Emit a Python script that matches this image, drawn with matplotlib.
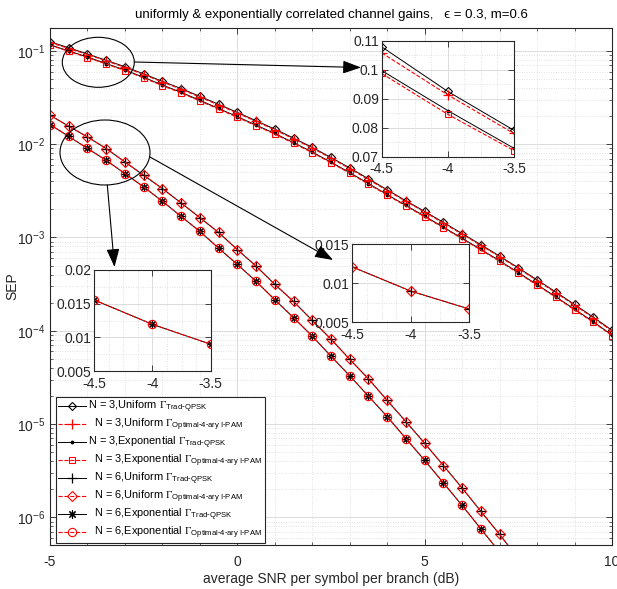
import matplotlib
matplotlib.use('Agg')
import matplotlib.pyplot as plt
from matplotlib.patches import Ellipse, FancyArrowPatch
from matplotlib.ticker import LogLocator, MultipleLocator, NullFormatter, FixedLocator, AutoMinorLocator

plt.rcParams['font.family'] = ['Liberation Sans', 'DejaVu Sans']
plt.rcParams['mathtext.fontset'] = 'custom'
plt.rcParams['mathtext.rm'] = 'Liberation Serif'
plt.rcParams['mathtext.sf'] = 'Liberation Sans'
plt.rcParams['mathtext.it'] = 'Liberation Serif:italic'
plt.rcParams['axes.unicode_minus'] = False

# ---------------- data ----------------
snr_db = [-5, -4.5, -4, -3.5, -3, -2.5, -2, -1.5, -1, -0.5, 0, 0.5, 1, 1.5, 2, 2.5,
          3, 3.5, 4, 4.5, 5, 5.5, 6, 6.5, 7, 7.5, 8, 8.5, 9, 9.5, 10]

sep_n3_uni_trad = [0.1250, 0.1079, 0.0925, 0.0791, 0.0676, 0.0566, 0.0471, 0.0394, 0.0325,
                   0.0267, 0.0219, 0.0178, 0.0145, 0.0116, 0.00923, 0.00719, 0.00556, 0.00425,
                   0.00324, 0.00247, 0.00190, 0.00145, 0.00110, 8.36e-4, 6.31e-4, 4.72e-4,
                   3.51e-4, 2.60e-4, 1.91e-4, 1.40e-4, 1.01e-4]
sep_n3_uni_opt = [0.1227, 0.1058, 0.0913, 0.0780, 0.0664, 0.0556, 0.0463, 0.0387, 0.0319,
                  0.0262, 0.0215, 0.0175, 0.0142, 0.0114, 0.00906, 0.00706, 0.00546, 0.00417,
                  0.00318, 0.00243, 0.00187, 0.00142, 0.00108, 8.21e-4, 6.20e-4, 4.64e-4,
                  3.45e-4, 2.55e-4, 1.88e-4, 1.37e-4, 9.92e-5]
sep_n3_exp_trad = [0.1160, 0.0997, 0.0859, 0.0729, 0.0623, 0.0520, 0.0430, 0.0359, 0.0295,
                   0.0241, 0.0197, 0.0160, 0.0130, 0.01037, 0.00823, 0.00640, 0.00495, 0.00378,
                   0.00288, 0.00220, 0.00169, 0.00129, 9.79e-4, 7.44e-4, 5.62e-4, 4.20e-4,
                   3.12e-4, 2.31e-4, 1.70e-4, 1.25e-4, 8.99e-5]
sep_n3_exp_opt = [0.1148, 0.0987, 0.0846, 0.0721, 0.0614, 0.0512, 0.0423, 0.0353, 0.0290,
                  0.0237, 0.0194, 0.0157, 0.0128, 0.0102, 0.00810, 0.00630, 0.00487, 0.00372,
                  0.00284, 0.00217, 0.00166, 0.00127, 9.64e-4, 7.33e-4, 5.54e-4, 4.14e-4,
                  3.07e-4, 2.28e-4, 1.67e-4, 1.23e-4, 8.86e-5]
sep_n6_uni_trad = [0.0204, 0.01556, 0.01194, 0.00897, 0.00644, 0.00464, 0.00334, 0.00234,
                   0.00163, 0.00113, 7.40e-4, 4.93e-4, 3.14e-4, 2.06e-4, 1.29e-4, 8.13e-5,
                   4.94e-5, 3.05e-5, 1.79e-5, 1.06e-5, 6.22e-6, 3.59e-6, 2.06e-6, 1.16e-6,
                   6.56e-7, 3.62e-7, 1.97e-7, 1.06e-7, 5.65e-8, 2.97e-8, 1.56e-8]
sep_n6_uni_opt = [0.0204, 0.01556, 0.01194, 0.00897, 0.00644, 0.00464, 0.00334, 0.00234,
                  0.00163, 0.00113, 7.40e-4, 4.93e-4, 3.14e-4, 2.06e-4, 1.29e-4, 8.13e-5,
                  4.94e-5, 3.05e-5, 1.79e-5, 1.06e-5, 6.22e-6, 3.59e-6, 2.06e-6, 1.16e-6,
                  6.56e-7, 3.62e-7, 1.97e-7, 1.06e-7, 5.65e-8, 2.97e-8, 1.56e-8]
sep_n6_exp_trad = [0.01622, 0.0121, 0.0090, 0.0067, 0.00484, 0.00348, 0.00244, 0.00168,
                   0.00116, 7.67e-4, 5.14e-4, 3.38e-4, 2.15e-4, 1.38e-4, 8.75e-5, 5.33e-5,
                   3.29e-5, 1.99e-5, 1.20e-5, 6.98e-6, 4.08e-6, 2.34e-6, 1.34e-6, 7.52e-7,
                   4.24e-7, 2.34e-7, 1.28e-7, 6.89e-8, 3.62e-8, 1.91e-8, 1.00e-8]
sep_n6_exp_opt = [0.01622, 0.0121, 0.0090, 0.0067, 0.00484, 0.00348, 0.00244, 0.00168,
                  0.00116, 7.67e-4, 5.14e-4, 3.38e-4, 2.15e-4, 1.38e-4, 8.75e-5, 5.33e-5,
                  3.29e-5, 1.99e-5, 1.20e-5, 6.98e-6, 4.08e-6, 2.34e-6, 1.34e-6, 7.52e-7,
                  4.24e-7, 2.34e-7, 1.28e-7, 6.89e-8, 3.62e-8, 1.91e-8, 1.00e-8]

trad = r'$\Gamma_{\mathsf{Trad}\text{-}\mathsf{QPSK}}$'
opt = r'$\Gamma_{\mathsf{Optimal}\text{-}\mathsf{4}\text{-}\mathsf{ary\ I}\text{-}\mathsf{PAM}}$'
labels = ['N = 3,Uniform ' + trad,
          '  N = 3,Uniform ' + opt,
          'N = 3,Exponential ' + trad,
          '  N = 3,Exponential ' + opt,
          '  N = 6,Uniform ' + trad,
          '  N = 6,Uniform ' + opt,
          '  N = 6,Exponential ' + trad,
          '  N = 6,Exponential ' + opt]

RED = '#ff0000'
ASTERISK = (8, 2, 0)
styles = [
    dict(color='k', ls='-', lw=0.7, marker='D', ms=4.5, mfc='none', mew=0.8),
    dict(color=RED, ls='--', lw=0.8, marker='+', ms=7, mew=0.9),
    dict(color='k', ls='-', lw=0.7, marker='.', ms=3.5),
    dict(color=RED, ls='--', lw=0.8, marker='s', ms=5, mfc='none', mew=0.8),
    dict(color='k', ls='-', lw=0.7, marker='+', ms=7, mew=0.9),
    dict(color=RED, ls='--', lw=0.8, marker='D', ms=5, mfc='none', mew=0.8),
    dict(color='k', ls='-', lw=0.7, marker=ASTERISK, ms=6, mew=0.8),
    dict(color=RED, ls='--', lw=0.8, marker='o', ms=6, mfc='none', mew=0.8),
]
series = [sep_n3_uni_trad, sep_n3_uni_opt, sep_n3_exp_trad, sep_n3_exp_opt,
          sep_n6_uni_trad, sep_n6_uni_opt, sep_n6_exp_trad, sep_n6_exp_opt]

AX_COL = '#262626'
GRID_COL = '#dcdcdc'
FS = 10


def style_axes(a, fs=FS):
    for s in a.spines.values():
        s.set_color(AX_COL)
        s.set_linewidth(0.8)
    a.tick_params(which='both', direction='in', top=True, right=True, colors=AX_COL,
                  labelsize=fs, labelcolor='#262626')
    a.tick_params(which='major', length=4, width=0.6)
    a.tick_params(which='minor', length=2, width=0.5)
    a.grid(True, which='major', color=GRID_COL, lw=0.7, ls='-')
    a.grid(True, which='minor', color='#c8c8c8', lw=0.5, ls=(0, (1, 2.5)))
    a.set_axisbelow(True)


fig = plt.figure(figsize=(6.17, 5.89), dpi=100)
ax = fig.add_axes([0.0810, 0.0747, 0.9109, 0.8783])
handles = []
for y, st, lab in zip(series, styles, labels):
    h, = ax.semilogy(snr_db, y, label=lab, **st)
    handles.append(h)
ax.set_xlim(-5, 10)
ax.set_ylim(5.05e-7, 0.177)
ax.xaxis.set_major_locator(FixedLocator([-5, 0, 5, 10]))
ax.xaxis.set_minor_locator(MultipleLocator(1))
ax.yaxis.set_major_locator(LogLocator(base=10, numticks=20))
ax.yaxis.set_minor_locator(LogLocator(base=10, subs=range(2, 10), numticks=20))
ax.yaxis.set_minor_formatter(NullFormatter())
style_axes(ax)
ax.tick_params(axis='x', pad=7)
ax.set_xlabel('average SNR per symbol per branch (dB)', fontsize=FS, color='#262626', labelpad=2)
ax.set_ylabel('SEP', fontsize=FS, color='#262626', labelpad=-2)
ax.set_title('uniformly & exponentially correlated channel gains,   \u03f5 = 0.3, m=0.6',
             fontsize=9.5, color='k', pad=7)

leg = ax.legend(handles=handles, loc='lower left', bbox_to_anchor=(0.0107, 0.003),
                borderaxespad=0, fontsize=7.9, numpoints=1, handlelength=2.5,
                labelspacing=0.17, handletextpad=0.25, borderpad=0.2, fancybox=False,
                framealpha=1, edgecolor=AX_COL)
leg.get_frame().set_linewidth(0.8)

# ---------------- insets ----------------
zoom_x = snr_db[1:4]


def make_inset(rect, idxs, ylim, yticks, marker_styles=None):
    a = fig.add_axes(rect)
    for k, i in enumerate(idxs):
        st = dict(styles[i])
        if marker_styles is not None:
            st.update(marker_styles[k])
        a.plot(zoom_x, series[i][1:4], **st)
    a.set_xlim(-4.5, -3.5)
    a.set_ylim(*ylim)
    a.set_xticks([-4.5, -4, -3.5])
    a.set_xticklabels(['-4.5', '-4', '-3.5'])
    a.set_yticks(yticks)
    a.set_yticklabels([('%g' % v) for v in yticks])
    a.xaxis.set_minor_locator(AutoMinorLocator(4))
    a.yaxis.set_minor_locator(AutoMinorLocator(2))
    style_axes(a, fs=FS)
    a.tick_params(which='minor', length=0)
    a.tick_params(axis='x', pad=4)
    a.tick_params(axis='y', pad=2)
    a.set_facecolor('white')
    return a


make_inset([0.6186, 0.7340, 0.2144, 0.1969], [0, 1, 2, 3], (0.07, 0.11),
           [0.07, 0.08, 0.09, 0.1, 0.11])
make_inset([0.5710, 0.4528, 0.1896, 0.1324], [6, 7], (0.005, 0.015),
           [0.005, 0.01, 0.015],
           marker_styles=[dict(marker='+', ms=7, mew=0.9),
                          dict(marker='D', ms=5, mfc='none', mew=0.8)])
make_inset([0.1524, 0.3701, 0.1891, 0.1715], [4, 5], (0.005, 0.02),
           [0.005, 0.01, 0.015, 0.02],
           marker_styles=[dict(marker=ASTERISK, ms=6, mew=0.8),
                          dict(marker='o', ms=6, mfc='none', mew=0.8)])

# ---------------- ellipses and arrows (figure pixel placement) ----------------
W, H = 617.0, 589.0


def fx(px):
    return px / W


def fy(py):
    return 1 - py / H


for cx, cy, w, h in [(98.3, 62.3, 72, 50), (105, 152.5, 90, 65)]:
    fig.add_artist(Ellipse((fx(cx), fy(cy)), w / W, h / H, transform=fig.transFigure,
                           fill=False, edgecolor='k', lw=0.8))

for (x0, y0), (x1, y1) in [((134.3, 62), (361, 67.5)),
                           ((107.3, 185), (114.5, 267)),
                           ((150, 157), (333, 260))]:
    fig.add_artist(FancyArrowPatch(
        (fx(x0), fy(y0)), (fx(x1), fy(y1)), transform=fig.transFigure,
        arrowstyle='-|>,head_length=7,head_width=2.5', color='k', lw=0.8,
        shrinkA=0, shrinkB=0, mutation_scale=1.6))

fig.savefig('out.png', dpi=100)
